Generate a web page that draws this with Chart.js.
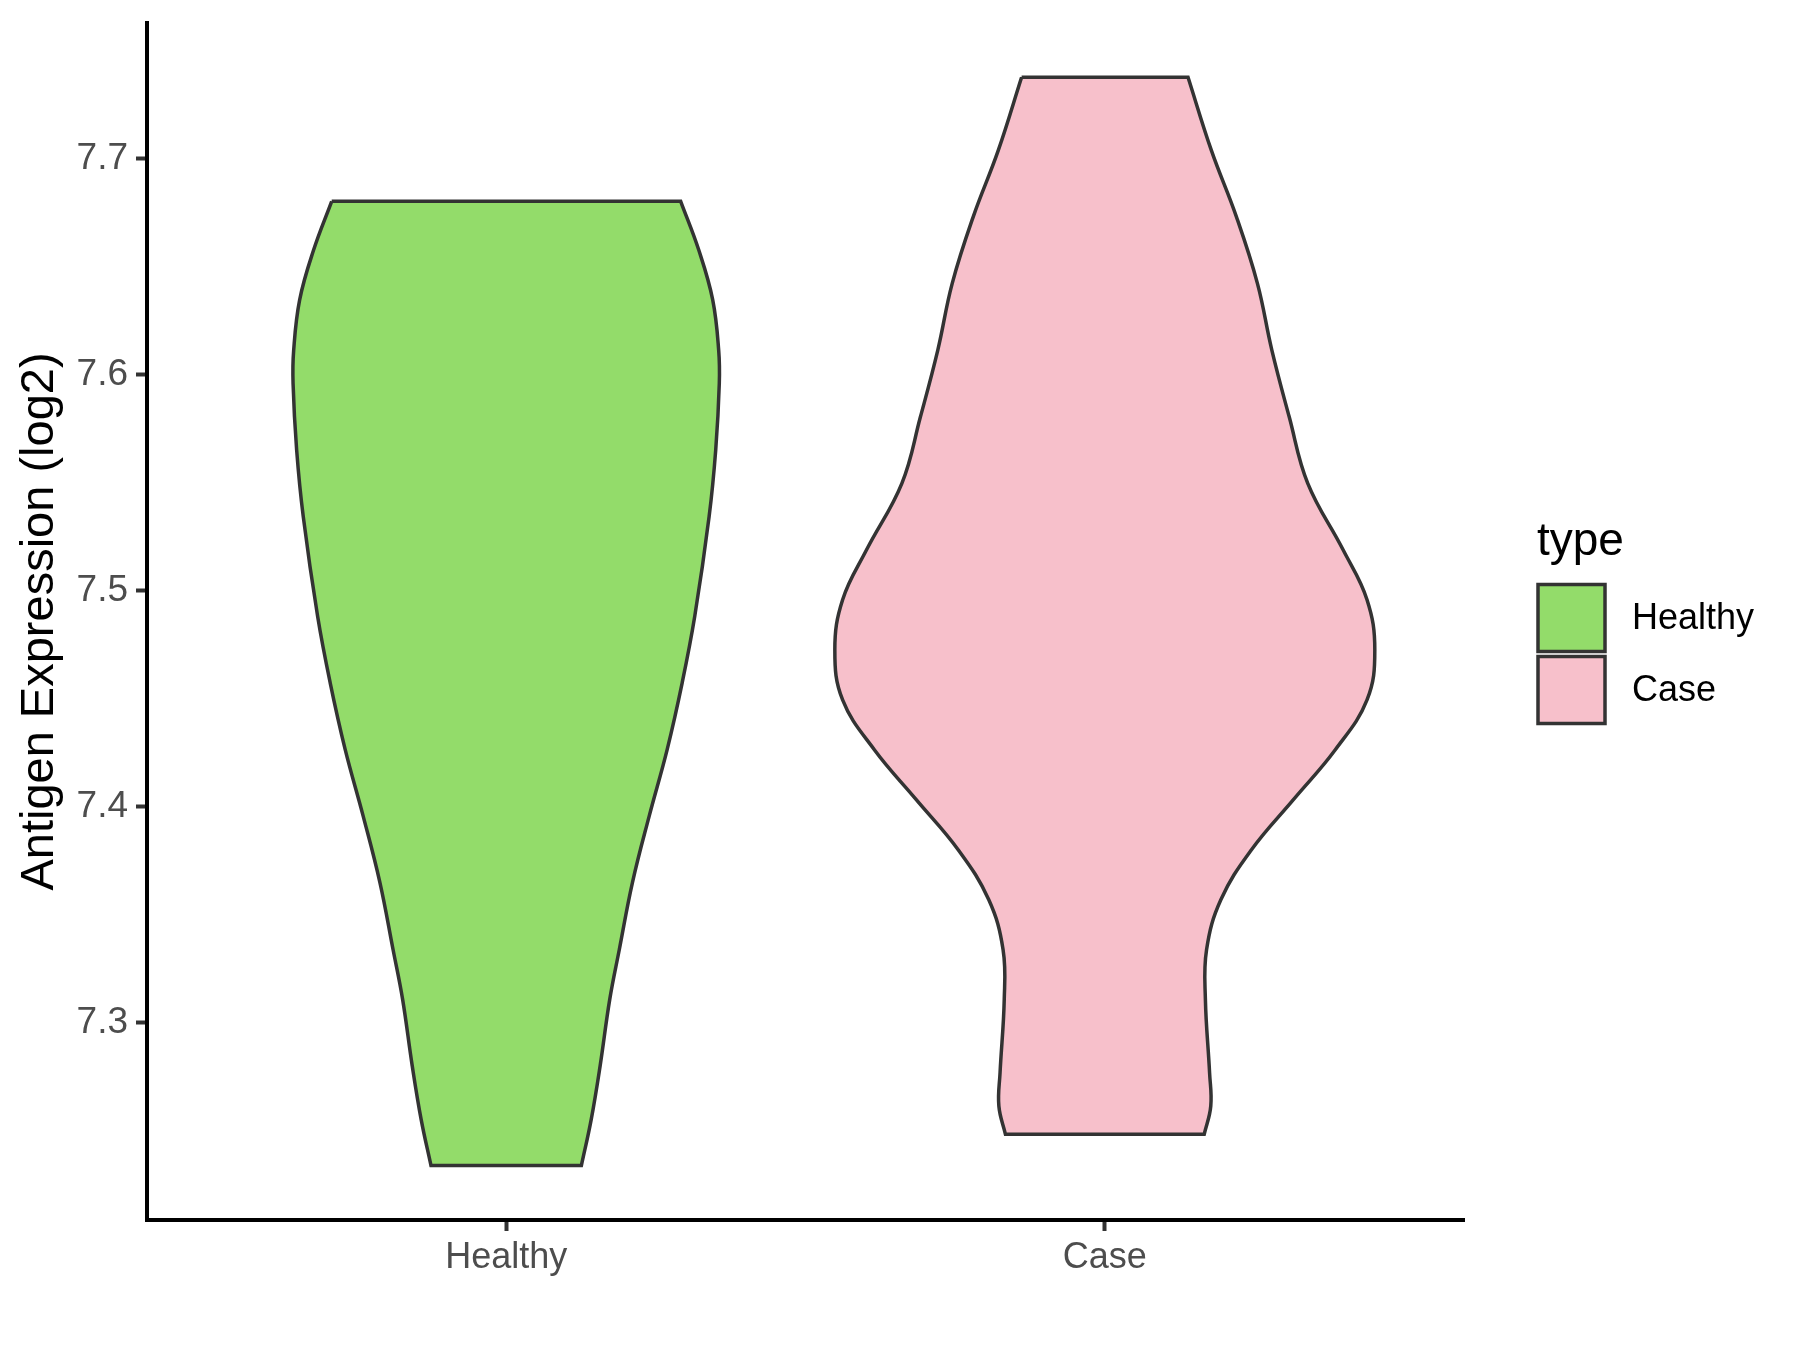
<!DOCTYPE html>
<html>
<head>
<meta charset="utf-8">
<title>Antigen Expression violin</title>
<script src="https://cdn.jsdelivr.net/npm/chart.js@4.4.1/dist/chart.umd.min.js"></script>
<style>
  body { margin: 0; background: #ffffff; }
  canvas { display: block; }
</style>
</head>
<body>
<canvas id="plot" width="1800" height="1350"></canvas>
<script>
// categorias del eje x
const categories = ['Healthy', 'Case'];
const legendTitle = 'type';
const yTicks = [7.3, 7.4, 7.5, 7.6, 7.7];

// contorno del violin: nivel (y) y semi-ancho (en unidades de categoria)
const healthyLevels = [7.6803, 7.6575, 7.6347, 7.6113, 7.5959, 7.5651, 7.5343, 7.4881, 7.4573, 7.4265, 7.3957, 7.3649, 7.3338, 7.3107, 7.28, 7.255, 7.2337];
const healthyWidths = [0.2915, 0.322, 0.345, 0.355, 0.356, 0.350, 0.339, 0.315, 0.294, 0.269, 0.239, 0.211, 0.189, 0.173, 0.157, 0.142, 0.1256];

const caseLevels = [7.7378, 7.7039, 7.673, 7.6422, 7.6114, 7.5805, 7.5497, 7.5189, 7.4958, 7.4726, 7.4494, 7.4263, 7.4032, 7.380, 7.3569, 7.3338, 7.3107, 7.2767, 7.2613, 7.2482];
const caseWidths = [0.139, 0.178, 0.220, 0.255, 0.279, 0.308, 0.339, 0.398, 0.438, 0.451, 0.438, 0.385, 0.315, 0.245, 0.194, 0.170, 0.168, 0.175, 0.177, 0.166];

const fillColors = ['#93DC6A', '#F7C0CB'];
const FONT = '"Liberation Sans", Arial, Helvetica, sans-serif';

// Arma el poligono cerrado de un violin (esquinas duplicadas para que los bordes planos queden rectos)
let violinPoints = (center, levels, widths) => {
  let pts = [];
  let n = levels.length;
  for (let i = 0; i < n; i++) pts.push({x: center - widths[i], y: levels[i]});
  pts.push({x: center - widths[n - 1], y: levels[n - 1]});
  pts.push({x: center + widths[n - 1], y: levels[n - 1]});
  for (let i = n - 1; i >= 0; i--) pts.push({x: center + widths[i], y: levels[i]});
  pts.push({x: center + widths[0], y: levels[0]});
  pts.push({x: center - widths[0], y: levels[0]});
  return pts;
};

const shapes = [
  violinPoints(1, healthyLevels, healthyWidths),
  violinPoints(2, caseLevels, caseWidths)
];

// leyenda al estilo ggplot, dibujada a mano
const typeLegend = {
  id: 'typeLegend',
  afterDraw(chart) {
    const ctx = chart.ctx;
    const left = chart.chartArea.right + 74;
    ctx.save();
    ctx.fillStyle = '#000000';
    ctx.font = '46px ' + FONT;
    ctx.textBaseline = 'alphabetic';
    ctx.textAlign = 'left';
    ctx.fillText(legendTitle, left - 1, 555);
    chart.data.datasets.forEach((ds, i) => {
      const top = 584.5 + i * 72;
      ctx.fillStyle = ds.backgroundColor;
      ctx.fillRect(left, top, 67, 67);
      ctx.strokeStyle = '#333333';
      ctx.lineWidth = 3.5;
      ctx.strokeRect(left, top, 67, 67);
      ctx.fillStyle = '#000000';
      ctx.font = '36px ' + FONT;
      ctx.textBaseline = 'middle';
      ctx.fillText(ds.label, left + 94, top + 35);
    });
    ctx.restore();
  }
};

let config = {
  type: 'scatter',
  data: {
    datasets: categories.map((name, i) => ({
      label: name,
      data: shapes[i],
      showLine: true,
      fill: 'shape',
      backgroundColor: fillColors[i],
      borderColor: '#333333',
      borderWidth: 3.5,
      tension: 0.4,
      pointRadius: 0,
      pointHoverRadius: 0
    }))
  },
  options: {
    responsive: false,
    animation: false,
    layout: { padding: { top: 23, right: 336, bottom: 0, left: 0 } },
    plugins: {
      legend: { display: false },
      tooltip: { enabled: false }
    },
    scales: {
      x: {
        type: 'linear',
        min: 0.4,
        max: 2.6,
        afterBuildTicks: (scale) => { scale.ticks = categories.map((c, i) => ({value: i + 1})); },
        afterFit: (scale) => {
          scale.height = 130;
          scale.paddingLeft = 0;
          scale.paddingRight = 0;
        },
        ticks: {
          callback: (v) => categories[Math.round(v) - 1],
          color: '#4D4D4D',
          font: { family: FONT, size: 36 },
          padding: 5,
          maxRotation: 0
        },
        grid: { drawOnChartArea: false, drawTicks: true, tickLength: 11, tickWidth: 4, tickColor: '#333333' },
        border: { display: true, color: '#000000', width: 4 }
      },
      y: {
        type: 'linear',
        min: 7.2085,
        max: 7.7629,
        afterBuildTicks: (scale) => { scale.ticks = yTicks.map(v => ({value: v})); },
        afterFit: (scale) => {
          scale.width = 147;
          scale.paddingTop = 0;
          scale.paddingBottom = 0;
        },
        ticks: {
          callback: (v) => v.toFixed(1),
          color: '#4D4D4D',
          font: { family: FONT, size: 37 },
          padding: 8
        },
        grid: { drawOnChartArea: false, drawTicks: true, tickLength: 11, tickWidth: 4, tickColor: '#333333' },
        border: { display: true, color: '#000000', width: 4 },
        title: {
          display: true,
          text: 'Antigen Expression (log2)',
          color: '#000000',
          font: { family: FONT, size: 47 },
          padding: { top: 12, bottom: 0 }
        }
      }
    }
  },
  plugins: [typeLegend]
};

let chart1 = new Chart(document.getElementById('plot'), config);
</script>
</body>
</html>
